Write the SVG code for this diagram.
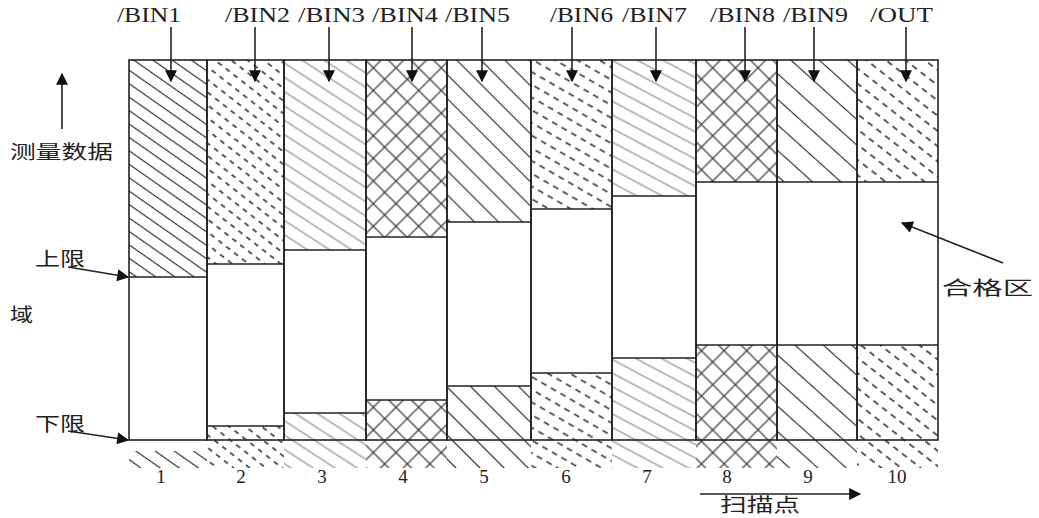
<svg xmlns="http://www.w3.org/2000/svg" width="1039" height="518" viewBox="0 0 1039 518">
<style>
.lbl{font-family:"Liberation Serif","Times New Roman",serif;font-size:21px;fill:#222}
.num{font-family:"Liberation Serif","Times New Roman",serif;font-size:19px;fill:#222;text-anchor:middle}
.cjk{font-family:"Noto Sans CJK SC","Noto Sans",sans-serif;font-size:19px;fill:#222}
.col{fill:none;stroke:#222;stroke-width:1.6}
.lim{stroke:#222;stroke-width:1.6}
.arr{stroke:#222;stroke-width:1.6;fill:none;marker-end:url(#ah)}
</style>
<defs>
<marker id="ah" viewBox="0 0 10 10" refX="9" refY="5" markerWidth="13" markerHeight="12" markerUnits="userSpaceOnUse" orient="auto">
<path d="M0,0 L10,5 L0,10 z" fill="#111"/>
</marker>
<pattern id="p1" patternUnits="userSpaceOnUse" width="20" height="11" patternTransform="rotate(35)"><line x1="0" y1="5.5" x2="20" y2="5.5" stroke="#333" stroke-width="1.2"/></pattern>
<pattern id="p2" patternUnits="userSpaceOnUse" width="10" height="10" patternTransform="rotate(38)"><line x1="0" y1="5" x2="5" y2="5" stroke="#333" stroke-width="1.6"/></pattern>
<pattern id="p3" patternUnits="userSpaceOnUse" width="20" height="12" patternTransform="rotate(33)"><line x1="0" y1="6" x2="20" y2="6" stroke="#777" stroke-width="1"/></pattern>
<pattern id="p4" patternUnits="userSpaceOnUse" width="16" height="16" patternTransform="rotate(45)"><line x1="0" y1="8" x2="16" y2="8" stroke="#333" stroke-width="1.2"/><line x1="8" y1="0" x2="8" y2="16" stroke="#333" stroke-width="1.2"/></pattern>
<pattern id="p5" patternUnits="userSpaceOnUse" width="20" height="17" patternTransform="rotate(45)"><line x1="0" y1="8.5" x2="20" y2="8.5" stroke="#333" stroke-width="1.2"/></pattern>
<pattern id="p6" patternUnits="userSpaceOnUse" width="11" height="11" patternTransform="rotate(30)"><line x1="0" y1="5.5" x2="6" y2="5.5" stroke="#333" stroke-width="1.6"/></pattern>
<pattern id="p7" patternUnits="userSpaceOnUse" width="20" height="12" patternTransform="rotate(28)"><line x1="0" y1="6" x2="20" y2="6" stroke="#777" stroke-width="1"/></pattern>
<pattern id="p8" patternUnits="userSpaceOnUse" width="16" height="16" patternTransform="rotate(45)"><line x1="0" y1="8" x2="16" y2="8" stroke="#333" stroke-width="1.2"/><line x1="8" y1="0" x2="8" y2="16" stroke="#333" stroke-width="1.2"/></pattern>
<pattern id="p9" patternUnits="userSpaceOnUse" width="20" height="19" patternTransform="rotate(42)"><line x1="0" y1="9.5" x2="20" y2="9.5" stroke="#333" stroke-width="1.2"/></pattern>
<pattern id="p10" patternUnits="userSpaceOnUse" width="11" height="12" patternTransform="rotate(38)"><line x1="0" y1="6" x2="6" y2="6" stroke="#333" stroke-width="1.6"/></pattern>
</defs>
<rect width="1039" height="518" fill="#fff"/>

<g id="col1">
<rect x="129" y="60" width="78" height="217" fill="url(#p1)"/>
<rect x="129" y="451" width="78" height="17" fill="url(#p1)"/>
<rect class="col" x="129" y="60" width="78" height="380"/>
<line class="lim" x1="129" y1="277" x2="207" y2="277"/>
<text class="lbl" x="117" y="22" textLength="64" lengthAdjust="spacingAndGlyphs">/BIN1</text>
<text class="num" x="161" y="483">1</text>
</g>
<g id="col2">
<rect x="207" y="60" width="77" height="204" fill="url(#p2)"/>
<rect x="207" y="426" width="77" height="42" fill="url(#p2)"/>
<rect class="col" x="207" y="60" width="77" height="380"/>
<line class="lim" x1="207" y1="264" x2="284" y2="264"/>
<line class="lim" x1="207" y1="426" x2="284" y2="426"/>
<text class="lbl" x="225" y="22" textLength="65" lengthAdjust="spacingAndGlyphs">/BIN2</text>
<text class="num" x="241" y="483">2</text>
</g>
<g id="col3">
<rect x="284" y="60" width="82" height="190" fill="url(#p3)"/>
<rect x="284" y="413" width="82" height="55" fill="url(#p3)"/>
<rect class="col" x="284" y="60" width="82" height="380"/>
<line class="lim" x1="284" y1="250" x2="366" y2="250"/>
<line class="lim" x1="284" y1="413" x2="366" y2="413"/>
<text class="lbl" x="298" y="22" textLength="67" lengthAdjust="spacingAndGlyphs">/BIN3</text>
<text class="num" x="322" y="483">3</text>
</g>
<g id="col4">
<rect x="366" y="60" width="81" height="177" fill="url(#p4)"/>
<rect x="366" y="400" width="81" height="68" fill="url(#p4)"/>
<rect class="col" x="366" y="60" width="81" height="380"/>
<line class="lim" x1="366" y1="237" x2="447" y2="237"/>
<line class="lim" x1="366" y1="400" x2="447" y2="400"/>
<text class="lbl" x="372" y="22" textLength="66" lengthAdjust="spacingAndGlyphs">/BIN4</text>
<text class="num" x="403" y="483">4</text>
</g>
<g id="col5">
<rect x="447" y="60" width="84" height="162" fill="url(#p5)"/>
<rect x="447" y="386" width="84" height="82" fill="url(#p5)"/>
<rect class="col" x="447" y="60" width="84" height="380"/>
<line class="lim" x1="447" y1="222" x2="531" y2="222"/>
<line class="lim" x1="447" y1="386" x2="531" y2="386"/>
<text class="lbl" x="445" y="22" textLength="65" lengthAdjust="spacingAndGlyphs">/BIN5</text>
<text class="num" x="484" y="483">5</text>
</g>
<g id="col6">
<rect x="531" y="60" width="81" height="149" fill="url(#p6)"/>
<rect x="531" y="373" width="81" height="95" fill="url(#p6)"/>
<rect class="col" x="531" y="60" width="81" height="380"/>
<line class="lim" x1="531" y1="209" x2="612" y2="209"/>
<line class="lim" x1="531" y1="373" x2="612" y2="373"/>
<text class="lbl" x="550" y="22" textLength="63" lengthAdjust="spacingAndGlyphs">/BIN6</text>
<text class="num" x="566" y="483">6</text>
</g>
<g id="col7">
<rect x="612" y="60" width="84" height="136" fill="url(#p7)"/>
<rect x="612" y="358" width="84" height="110" fill="url(#p7)"/>
<rect class="col" x="612" y="60" width="84" height="380"/>
<line class="lim" x1="612" y1="196" x2="696" y2="196"/>
<line class="lim" x1="612" y1="358" x2="696" y2="358"/>
<text class="lbl" x="622" y="22" textLength="65" lengthAdjust="spacingAndGlyphs">/BIN7</text>
<text class="num" x="647" y="483">7</text>
</g>
<g id="col8">
<rect x="696" y="60" width="81" height="122" fill="url(#p8)"/>
<rect x="696" y="345" width="81" height="123" fill="url(#p8)"/>
<rect class="col" x="696" y="60" width="81" height="380"/>
<line class="lim" x1="696" y1="182" x2="777" y2="182"/>
<line class="lim" x1="696" y1="345" x2="777" y2="345"/>
<text class="lbl" x="710" y="22" textLength="65" lengthAdjust="spacingAndGlyphs">/BIN8</text>
<text class="num" x="727" y="483">8</text>
</g>
<g id="col9">
<rect x="777" y="60" width="80" height="122" fill="url(#p9)"/>
<rect x="777" y="345" width="80" height="123" fill="url(#p9)"/>
<rect class="col" x="777" y="60" width="80" height="380"/>
<line class="lim" x1="777" y1="182" x2="857" y2="182"/>
<line class="lim" x1="777" y1="345" x2="857" y2="345"/>
<text class="lbl" x="783" y="22" textLength="65" lengthAdjust="spacingAndGlyphs">/BIN9</text>
<text class="num" x="808" y="483">9</text>
</g>
<g id="col10">
<rect x="857" y="60" width="81" height="122" fill="url(#p10)"/>
<rect x="857" y="345" width="81" height="123" fill="url(#p10)"/>
<rect class="col" x="857" y="60" width="81" height="380"/>
<line class="lim" x1="857" y1="182" x2="938" y2="182"/>
<line class="lim" x1="857" y1="345" x2="938" y2="345"/>
<text class="lbl" x="870" y="22" textLength="63" lengthAdjust="spacingAndGlyphs">/OUT</text>
<text class="num" x="897" y="483">10</text>
</g>

<g id="labels">
<text class="cjk" x="10" y="159" textLength="103" lengthAdjust="spacingAndGlyphs">测量数据</text>
<text class="cjk" x="35" y="266" textLength="50" lengthAdjust="spacingAndGlyphs">上限</text>
<text class="cjk" x="10" y="322" textLength="23" lengthAdjust="spacingAndGlyphs">域</text>
<text class="cjk" x="35" y="431" textLength="50" lengthAdjust="spacingAndGlyphs">下限</text>
<text class="cjk" x="720" y="512" textLength="80" lengthAdjust="spacingAndGlyphs">扫描点</text>
<text class="cjk" x="942" y="295" textLength="91" lengthAdjust="spacingAndGlyphs">合格区</text>
</g>

<g id="connectors">
<line class="arr" x1="171" y1="27" x2="171" y2="81"/>
<line class="arr" x1="255" y1="27" x2="255" y2="81"/>
<line class="arr" x1="329" y1="27" x2="329" y2="81"/>
<line class="arr" x1="412" y1="27" x2="412" y2="81"/>
<line class="arr" x1="482" y1="27" x2="482" y2="81"/>
<line class="arr" x1="572" y1="27" x2="572" y2="81"/>
<line class="arr" x1="656" y1="27" x2="656" y2="81"/>
<line class="arr" x1="745" y1="27" x2="745" y2="81"/>
<line class="arr" x1="814" y1="27" x2="814" y2="81"/>
<line class="arr" x1="906" y1="27" x2="906" y2="81"/>
<line class="arr" x1="62" y1="129" x2="62" y2="74"/>
<line class="arr" x1="68" y1="267" x2="128" y2="277"/>
<line class="arr" x1="68" y1="431" x2="128" y2="440"/>
<line class="arr" x1="700" y1="494" x2="860" y2="494"/>
<line class="arr" x1="1003" y1="263" x2="902" y2="223"/>
</g>
</svg>
